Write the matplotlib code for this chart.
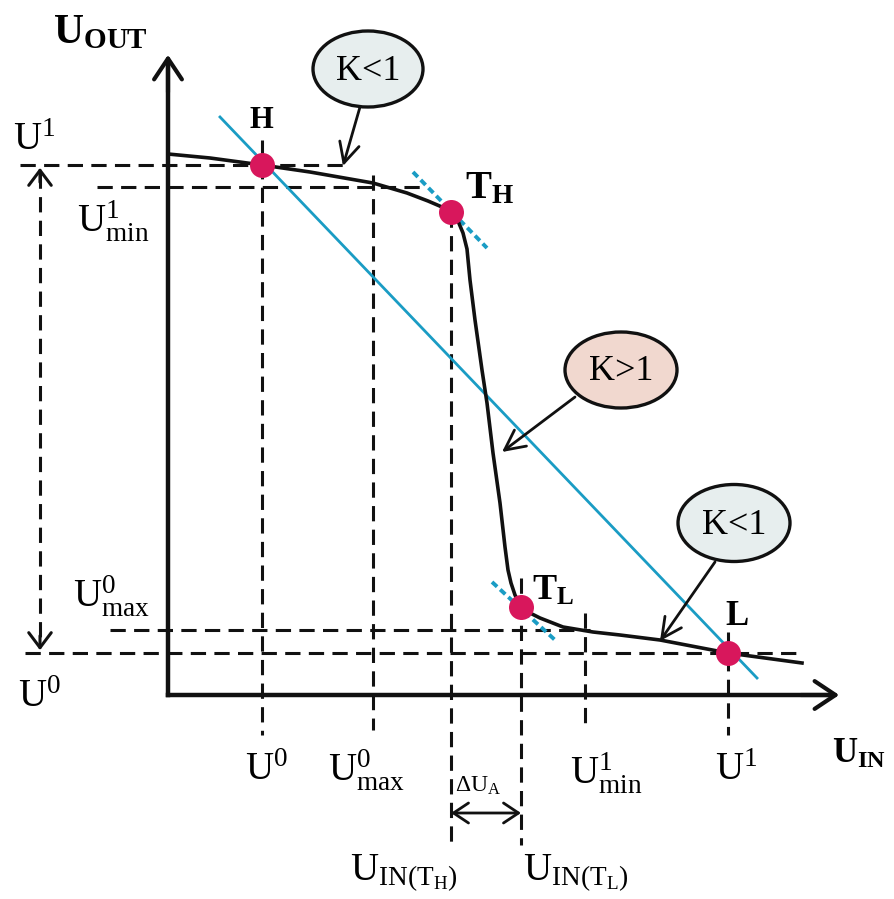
import matplotlib
matplotlib.use("Agg")
import matplotlib.pyplot as plt
from matplotlib.patches import Ellipse

plt.rcParams['font.family'] = ['Liberation Serif', 'DejaVu Serif']
plt.rcParams['mathtext.fontset'] = 'custom'
plt.rcParams['mathtext.rm'] = 'Liberation Serif'
plt.rcParams['mathtext.bf'] = 'Liberation Serif:bold'
plt.rcParams['mathtext.it'] = 'Liberation Serif:italic'
plt.rcParams['lines.scale_dashes'] = False

# transfer characteristic (U_IN, U_OUT), origin at axis corner
curve_x = [0, 42, 94, 142, 205, 239, 260, 274, 283, 290, 295, 299, 302, 307,
           314, 319, 325, 332, 337, 340, 343, 347, 353, 362, 372, 395, 425,
           452, 492, 560, 634]
curve_y = [541, 537, 530, 523, 512, 502, 494, 488, 483, 474, 462, 446, 415, 375,
           325, 292, 242, 192, 148, 125, 112, 100, 88, 82, 77, 68, 63,
           60, 55, 42, 32]

# logic levels
u1_y, u1min_y, u0max_y, u0_y = 530, 508, 65, 42
u0_x, u0max_x, uth_x, utl_x, u1min_x, u1_x = 94, 205, 283, 353, 417, 560

# named points
pts_x = [94, 283, 353, 560]
pts_y = [530, 483, 88, 42]

# blue lines (K = 1 line and tangents)
k1_x, k1_y = [52, 589], [578, 17]
tan_h_x, tan_h_y = [245, 319], [523, 447]
tan_l_x, tan_l_y = [324, 387], [113, 55]

black = '#111111'
cyan = '#1a9cc4'
red = '#d8175c'
dash = (11, 6)

fig = plt.figure(figsize=(8.95, 8.99), dpi=100)
ax = fig.add_axes([0, 0, 1, 1])
ax.set_xlim(-168, 727)
ax.set_ylim(-204, 695)
ax.axis('off')

# dashed guide lines
hlines = [(u1_y, -148, 175), (u1min_y, -71, 252), (u0max_y, -58, 422), (u0_y, -143, 632)]
for y, x0, x1 in hlines:
    ax.plot([x0, x1], [y, y], color=black, lw=2.2, dashes=dash, zorder=2)
vlines = [(u0_x, 555, -40), (u0max_x, 520, -35), (uth_x, 483, -153),
          (utl_x, 117, -150), (u1min_x, 82, -30), (u1_x, 63, -40)]
for x, y0, y1 in vlines:
    ax.plot([x, x], [y0, y1], color=black, lw=2.2, dashes=dash, zorder=2)

# axes with open arrow heads
ax.plot([0, 0], [0, 630], color=black, lw=3.2, solid_capstyle='projecting', zorder=4)
ax.plot([0, 660], [0, 0], color=black, lw=3.2, solid_capstyle='projecting', zorder=4)
ax.annotate('', xy=(0, 643), xytext=(0, 600),
            arrowprops=dict(arrowstyle='->,head_length=0.75,head_width=0.5',
                            lw=3, color=black, mutation_scale=20), zorder=4)
ax.annotate('', xy=(674, 0), xytext=(630, 0),
            arrowprops=dict(arrowstyle='->,head_length=0.75,head_width=0.5',
                            lw=3, color=black, mutation_scale=20), zorder=4)

# vertical dashed double arrow on the left
ax.plot([-128, -128], [u1_y - 8, u0_y + 8], color=black, lw=2.2, dashes=dash)
for a, b in [(u1_y, u1_y - 20), (u0_y, u0_y + 20)]:
    ax.annotate('', xy=(-128, a), xytext=(-128, b),
                arrowprops=dict(arrowstyle='->,head_length=0.6,head_width=0.45',
                                lw=2.2, color=black, mutation_scale=18))

# delta U_A arrow
ax.annotate('', xy=(uth_x, -118), xytext=(utl_x, -118),
            arrowprops=dict(arrowstyle='<->,head_length=0.6,head_width=0.4',
                            lw=2, color=black, mutation_scale=18, shrinkA=0, shrinkB=0))

# blue lines
ax.plot(k1_x, k1_y, color=cyan, lw=2, zorder=3)
ax.plot(tan_h_x, tan_h_y, color=cyan, lw=2.8, dashes=(5, 3), zorder=3)
ax.plot(tan_l_x, tan_l_y, color=cyan, lw=2.8, dashes=(5, 3), zorder=3)

# characteristic
ax.plot(curve_x, curve_y, color=black, lw=2.6, solid_joinstyle='round', zorder=5)
ax.plot(pts_x, pts_y, 'o', color=red, ms=18, mec='none', zorder=6)

# callout ellipses
callouts = [((200, 626), 110, 76, '#e7eeee', 'K<1', (192, 588), (175, 529)),
            ((453, 325), 112, 76, '#f1d8cf', 'K>1', (407, 298), (334, 243)),
            ((566, 172), 112, 77, '#e7eeee', 'K<1', (547, 133), (492, 54))]
for c, w, h, fc, txt, start, tip in callouts:
    ax.add_patch(Ellipse(c, w, h, fc=fc, ec=black, lw=2.4, zorder=7))
    ax.text(c[0], c[1] - 2, txt, fontsize=26, ha='center', va='center', zorder=8)
    ax.annotate('', xy=tip, xytext=start,
                arrowprops=dict(arrowstyle='->,head_length=0.8,head_width=0.4',
                                lw=2, color=black, mutation_scale=18, shrinkA=0, shrinkB=0),
                zorder=7)

# point names
ax.text(94, 567, r'$\mathbf{H}$', fontsize=22, ha='center', va='baseline')
ax.text(297, 497, r'$\mathbf{T_H}$', fontsize=28, ha='left', va='baseline')
ax.text(364, 95, r'$\mathbf{T_L}$', fontsize=26, ha='left', va='baseline')
ax.text(557, 70, r'$\mathbf{L}$', fontsize=25, ha='left', va='baseline')

# axis titles
ax.text(-115, 652, r'$\mathbf{U_{OUT}}$', fontsize=30, ha='left', va='baseline')
ax.text(664, -68, r'$\mathbf{U_{IN}}$', fontsize=25, ha='left', va='baseline')

# level labels
fs = 28
ax.text(-155, 545, r'$\mathrm{U}^{1}$', fontsize=fs, ha='left', va='baseline')
ax.text(-91, 462, r'$\mathrm{U}^{1}_{\mathrm{min}}$', fontsize=fs, ha='left', va='baseline')
ax.text(-95, 88, r'$\mathrm{U}^{0}_{\mathrm{max}}$', fontsize=fs, ha='left', va='baseline')
ax.text(-150, -12, r'$\mathrm{U}^{0}$', fontsize=fs, ha='left', va='baseline')
ax.text(77, -85, r'$\mathrm{U}^{0}$', fontsize=fs, ha='left', va='baseline')
ax.text(160, -85, r'$\mathrm{U}^{0}_{\mathrm{max}}$', fontsize=fs, ha='left', va='baseline')
ax.text(287, -97, r'$\mathrm{\Delta U_A}$', fontsize=17, ha='left', va='baseline')
ax.text(402, -90, r'$\mathrm{U}^{1}_{\mathrm{min}}$', fontsize=fs, ha='left', va='baseline')
ax.text(547, -85, r'$\mathrm{U}^{1}$', fontsize=fs, ha='left', va='baseline')
ax.text(182, -185, r'$\mathrm{U_{IN(T_H)}}$', fontsize=fs, ha='left', va='baseline')
ax.text(355, -185, r'$\mathrm{U_{IN(T_L)}}$', fontsize=fs, ha='left', va='baseline')

fig.savefig('out.png', dpi=100)
